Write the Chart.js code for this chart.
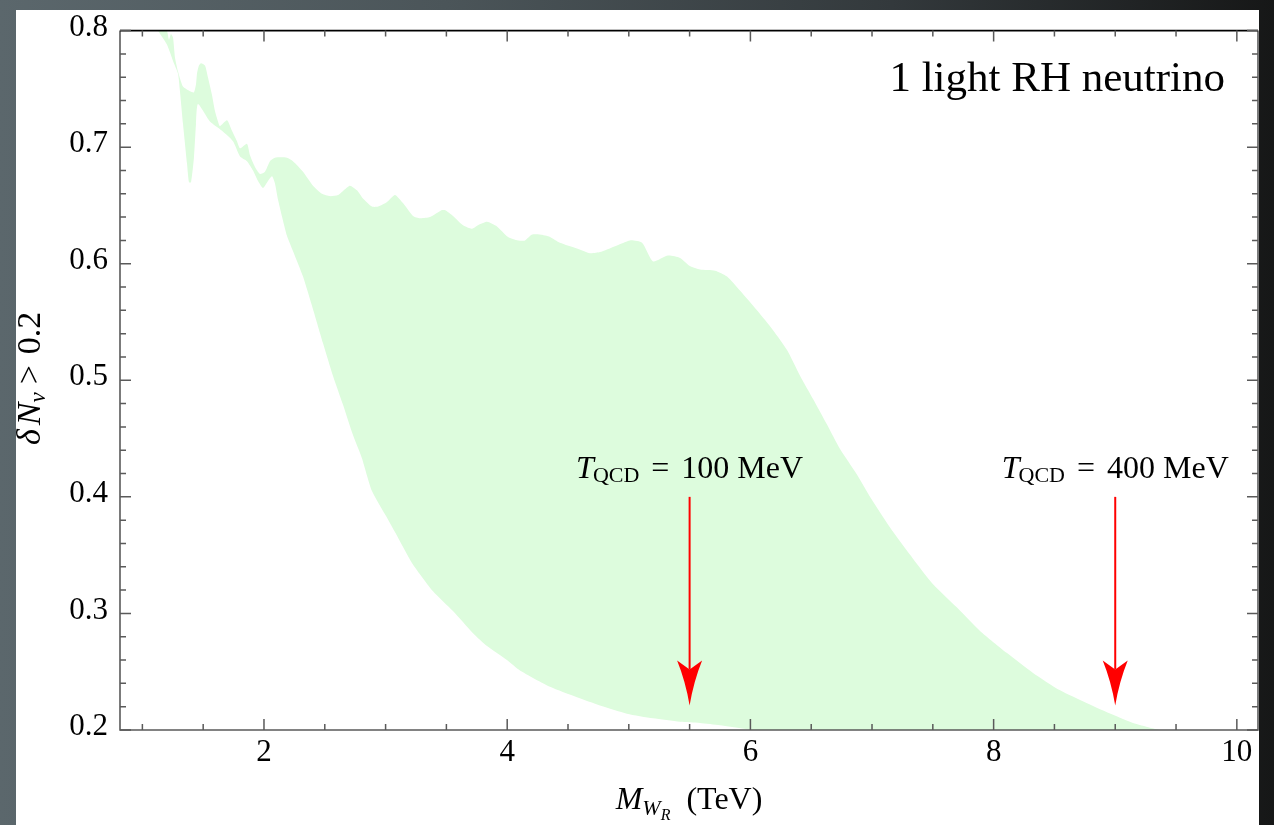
<!DOCTYPE html>
<html>
<head>
<meta charset="utf-8">
<script src="https://cdn.jsdelivr.net/npm/chart.js@4.4.1/dist/chart.umd.min.js"></script>
<style>
  html, body { margin: 0; padding: 0; width: 1274px; height: 825px; overflow: hidden;
    background: linear-gradient(90deg, #5b676c 0%, #4b5559 35%, #33393c 70%, #161717 100%); }
  #panel { position: absolute; left: 16px; top: 10px; width: 1243px; height: 815px; background: #fff; }
  #c { position: absolute; left: 0; top: 0; }
</style>
</head>
<body>
<div id="panel"></div>
<canvas id="c" width="1274" height="825"></canvas>
<script>
const upperEdge = [
  [1.079,0.822],[1.145,0.810],[1.202,0.800],[1.219,0.792],[1.235,0.797],[1.252,0.794],[1.268,0.777],
  [1.293,0.765],[1.334,0.752],[1.391,0.748],[1.424,0.747],[1.441,0.754],[1.449,0.763],[1.465,0.770],
  [1.482,0.772],[1.515,0.770],[1.539,0.760],[1.572,0.745],[1.597,0.731],[1.622,0.722],[1.638,0.718],
  [1.696,0.723],[1.737,0.714],[1.778,0.705],[1.803,0.699],[1.860,0.703],[1.885,0.693],[1.926,0.683],
  [1.967,0.677],[2.008,0.679],[2.049,0.688],[2.090,0.691],[2.189,0.691],[2.238,0.688],[2.321,0.679],
  [2.403,0.667],[2.477,0.660],[2.543,0.658],[2.609,0.659],[2.666,0.664],[2.707,0.667],[2.765,0.663],
  [2.814,0.656],[2.888,0.649],[2.938,0.649],[3.012,0.653],[3.077,0.659],[3.143,0.652],[3.225,0.641],
  [3.283,0.639],[3.365,0.640],[3.464,0.646],[3.488,0.646],[3.554,0.641],[3.637,0.633],[3.711,0.630],
  [3.760,0.633],[3.834,0.636],[3.916,0.632],[4.007,0.623],[4.089,0.620],[4.146,0.620],[4.204,0.625],
  [4.270,0.625],[4.352,0.623],[4.434,0.618],[4.574,0.613],[4.681,0.609],[4.763,0.610],[4.887,0.615],
  [5.010,0.620],[5.109,0.618],[5.199,0.602],[5.322,0.607],[5.421,0.605],[5.503,0.598],[5.586,0.595],
  [5.709,0.594],[5.808,0.589],[5.914,0.577],[6.054,0.560],[6.186,0.543],[6.301,0.526],[6.408,0.504],
  [6.515,0.484],[6.630,0.462],[6.737,0.441],[6.877,0.419],[7.008,0.396],[7.173,0.370],[7.337,0.347],
  [7.502,0.325],[7.699,0.305],[7.888,0.285],[8.110,0.266],[8.324,0.249],[8.546,0.234],[8.768,0.223],
  [8.982,0.213],[9.146,0.206],[9.286,0.202],[9.368,0.200],[9.450,0.198]
];
const lowerEdge = [
  [1.079,0.810],[1.128,0.800],[1.202,0.788],[1.252,0.774],[1.293,0.763],[1.309,0.748],[1.334,0.720],
  [1.367,0.686],[1.383,0.670],[1.400,0.670],[1.424,0.691],[1.441,0.720],[1.457,0.737],[1.556,0.722],
  [1.655,0.714],[1.745,0.705],[1.803,0.692],[1.860,0.688],[1.910,0.680],[1.951,0.671],[1.992,0.665],
  [2.033,0.671],[2.066,0.675],[2.090,0.669],[2.115,0.655],[2.189,0.624],[2.238,0.611],[2.321,0.589],
  [2.403,0.561],[2.485,0.532],[2.567,0.504],[2.650,0.479],[2.732,0.453],[2.806,0.433],[2.888,0.405],
  [3.012,0.382],[3.118,0.362],[3.225,0.342],[3.390,0.319],[3.554,0.302],[3.719,0.283],[3.834,0.272],
  [3.998,0.260],[4.105,0.251],[4.352,0.237],[4.574,0.228],[4.763,0.221],[4.985,0.214],[5.199,0.210],
  [5.421,0.207],[5.586,0.206],[5.750,0.204],[5.950,0.201],[6.100,0.199],[9.450,0.198]
];

const xTicks = [2, 4, 6, 8, 10];
const yTicks = [0.2, 0.3, 0.4, 0.5, 0.6, 0.7, 0.8];
const xMin = 0.816, xMax = 10.174;

// T_QCD arrows
const arrowX = [5.5, 9.0];
const arrowLabels = ["100", "400"];
const arrowTop = 0.4, arrowTip = 0.221, arrowTextY = 0.416;

const bandColor = "#ddfcdd";
const serif = "'Liberation Serif', 'DejaVu Serif', serif";

// draws a row of text pieces (sub/superscripts) with alphabetic baseline
function drawRuns(ctx, parts, x, y, align) {
  let w = 0;
  parts.forEach(p => { ctx.font = p.f; p.w = ctx.measureText(p.t).width; w += p.w + (p.g || 0); });
  let cx = align === "center" ? x - w / 2 : align === "right" ? x - w : x;
  parts.forEach(p => {
    cx += p.g || 0;
    ctx.font = p.f;
    ctx.fillText(p.t, cx, y + (p.dy || 0));
    cx += p.w;
  });
}

const deco = {
  id: "deco",
  afterDraw(chart) {
    const { ctx, chartArea: a, scales: { x, y } } = chart;
    ctx.save();

    // frame
    ctx.strokeStyle = "#5a5a5a";
    ctx.lineWidth = 1.6;
    ctx.beginPath();
    ctx.moveTo(a.left, a.top); ctx.lineTo(a.left, a.bottom); ctx.lineTo(a.right, a.bottom); ctx.lineTo(a.right, a.top);
    ctx.stroke();
    ctx.strokeStyle = "#000";
    ctx.beginPath(); ctx.moveTo(a.left, a.top); ctx.lineTo(a.right, a.top); ctx.stroke();

    // inward ticks
    ctx.strokeStyle = "#5a5a5a";
    ctx.lineWidth = 1.5;
    ctx.beginPath();
    for (let v = 1; v <= 10.001; v += 0.5) {
      const px = x.getPixelForValue(v);
      const len = xTicks.some(t => Math.abs(t - v) < 1e-6) ? 11 : 6;
      ctx.moveTo(px, a.bottom); ctx.lineTo(px, a.bottom - len);
      ctx.moveTo(px, a.top); ctx.lineTo(px, a.top + len);
    }
    for (let i = 0; i <= 30; i++) {
      const v = 0.2 + i * 0.02;
      const py = y.getPixelForValue(v);
      const len = i % 5 === 0 ? 11 : 6;
      ctx.moveTo(a.left, py); ctx.lineTo(a.left + len, py);
      ctx.moveTo(a.right, py); ctx.lineTo(a.right - len, py);
    }
    ctx.stroke();

    ctx.fillStyle = "#000";
    ctx.textAlign = "left";
    ctx.textBaseline = "alphabetic";

    // plot label
    drawRuns(ctx, [{ t: "1 light RH neutrino", f: "43px " + serif }], x.getPixelForValue(9.903), 91, "right");

    // arrows
    arrowX.forEach((v, i) => {
      const px = x.getPixelForValue(v);
      const y0 = y.getPixelForValue(arrowTop), y1 = y.getPixelForValue(arrowTip);
      ctx.strokeStyle = "#ff0000";
      ctx.fillStyle = "#ff0000";
      ctx.lineWidth = 2;
      ctx.beginPath(); ctx.moveTo(px, y0); ctx.lineTo(px, y1 - 36); ctx.stroke();
      ctx.beginPath();
      ctx.moveTo(px, y1);
      ctx.quadraticCurveTo(px - 4, y1 - 24, px - 12.5, y1 - 45);
      ctx.lineTo(px, y1 - 36);
      ctx.lineTo(px + 12.5, y1 - 45);
      ctx.quadraticCurveTo(px + 4, y1 - 24, px, y1);
      ctx.fill();
      ctx.fillStyle = "#000";
      drawRuns(ctx, [
        { t: "T", f: "italic 32px " + serif },
        { t: "QCD", f: "22px " + serif, dy: 4, g: -1 },
        { t: "=", f: "32px " + serif, g: 12 },
        { t: arrowLabels[i] + " MeV", f: "32px " + serif, g: 12 }
      ], px, y.getPixelForValue(arrowTextY), "center");
    });

    // x axis title
    ctx.fillStyle = "#000";
    drawRuns(ctx, [
      { t: "M", f: "italic 32px " + serif },
      { t: "W", f: "italic 22px " + serif, dy: 6 },
      { t: "R", f: "italic 16px " + serif, dy: 11 },
      { t: "(TeV)", f: "32px " + serif, g: 16 }
    ], (a.left + a.right) / 2, 809, "center");

    // y axis title, rotated
    ctx.translate(40, 445);
    ctx.rotate(-Math.PI / 2);
    drawRuns(ctx, [
      { t: "δ", f: "italic 34px " + serif },
      { t: "N", f: "italic 34px " + serif, g: 4 },
      { t: "ν", f: "italic 23px " + serif, dy: 5 },
      { t: ">", f: "34px " + serif, g: 8 },
      { t: "0.2", f: "34px " + serif, g: 11 }
    ], 0, 0, "left");

    ctx.restore();
  }
};

const toXY = pts => pts.map(p => ({ x: p[0], y: p[1] }));

new Chart(document.getElementById("c"), {
  type: "line",
  data: {
    datasets: [
      { data: toXY(upperEdge), fill: "+1", backgroundColor: bandColor, borderColor: "rgba(0,0,0,0)",
        borderWidth: 0, pointRadius: 0, tension: 0.2 },
      { data: toXY(lowerEdge), fill: false, borderColor: "rgba(0,0,0,0)",
        borderWidth: 0, pointRadius: 0, tension: 0.2 }
    ]
  },
  options: {
    responsive: false,
    animation: false,
    devicePixelRatio: 1,
    layout: { padding: { left: 0, top: 26, right: 16, bottom: 0 } },
    plugins: { legend: { display: false }, tooltip: { enabled: false } },
    scales: {
      x: {
        type: "linear", min: xMin, max: xMax,
        grid: { display: false, drawTicks: false }, border: { display: false },
        afterBuildTicks: s => { s.ticks = xTicks.map(v => ({ value: v })); },
        afterFit: s => { s.height = 95; },
        ticks: { color: "#000", font: { family: serif, size: 31 }, padding: 4, maxRotation: 0,
                 autoSkip: false, callback: v => String(v) }
      },
      y: {
        min: 0.2, max: 0.8,
        grid: { display: false, drawTicks: false }, border: { display: false },
        afterBuildTicks: s => { s.ticks = yTicks.map(v => ({ value: v })); },
        afterFit: s => { s.width = 120; },
        ticks: { color: "#000", font: { family: serif, size: 31 }, padding: 12, labelOffset: -3,
                 autoSkip: false, callback: v => v.toFixed(1) }
      }
    }
  },
  plugins: [deco]
});
</script>
</body>
</html>
